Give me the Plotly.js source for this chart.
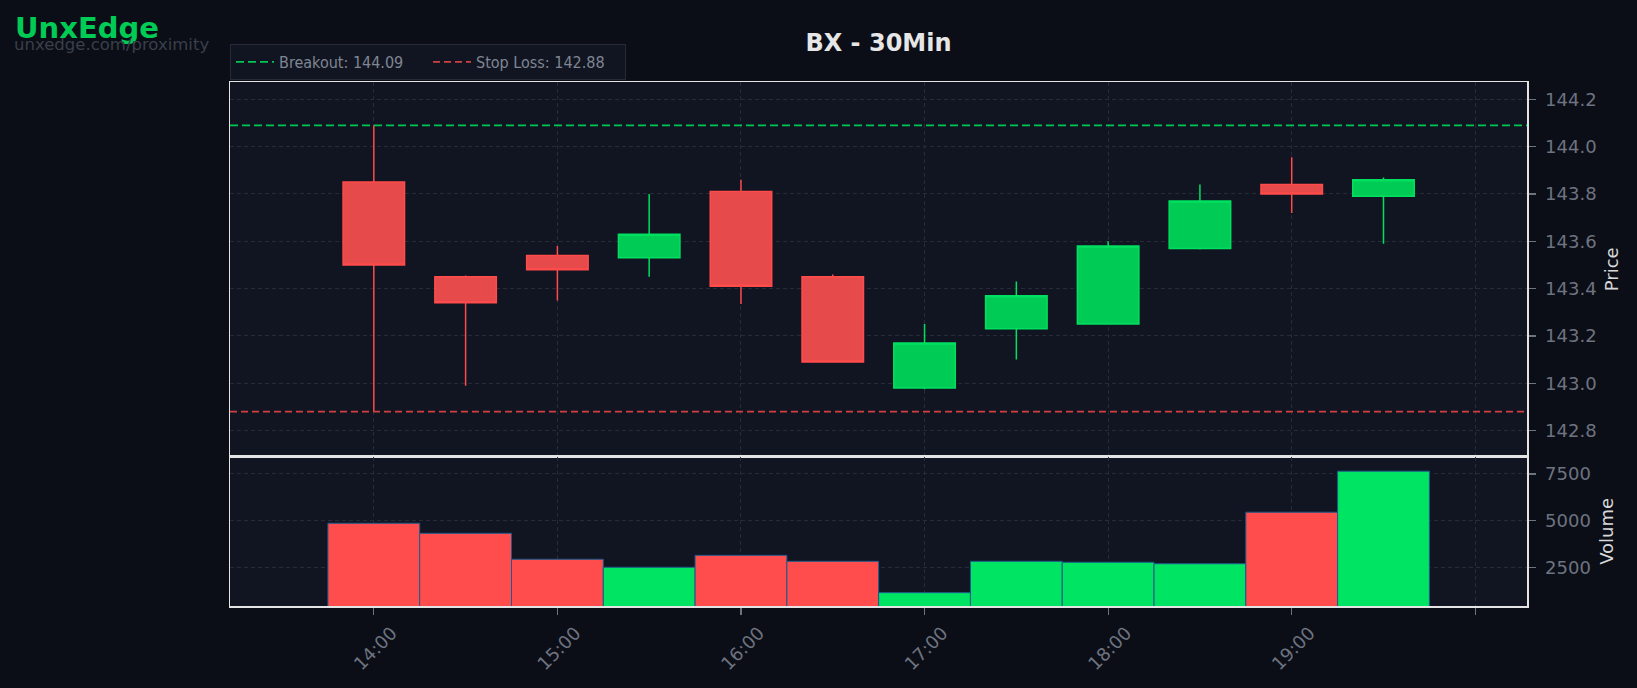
<!DOCTYPE html>
<html>
<head>
<meta charset="utf-8">
<script src="https://cdn.plot.ly/plotly-3.0.1.min.js"></script>
<style>
  html, body { margin: 0; padding: 0; background: #0b0e17; }
  #chart { width: 1637px; height: 688px; }
</style>
</head>
<body>
<div id="chart"></div>
<script>
// ---- Data ----
const sessionDate = '2024-01-02';
const times  = ['14:00','14:30','15:00','15:30','16:00','16:30','17:00','17:30','18:00','18:30','19:00','19:30'];
const opens  = [143.85, 143.45, 143.54, 143.53, 143.81, 143.45, 142.98, 143.23, 143.25, 143.57, 143.84, 143.79];
const highs  = [144.09, 143.455,143.58, 143.80, 143.86, 143.46, 143.25, 143.43, 143.60, 143.84, 143.955,143.87];
const lows   = [142.88, 142.99, 143.35, 143.45, 143.335,143.09, 142.975,143.10, 143.25, 143.565,143.72, 143.59];
const closes = [143.50, 143.34, 143.48, 143.63, 143.41, 143.09, 143.17, 143.37, 143.58, 143.77, 143.80, 143.86];
const volumes = [4860, 4320, 2930, 2500, 3140, 2820, 1140, 2820, 2770, 2690, 5450, 7650];
const breakout = 144.09;
const stopLoss = 142.88;
const tickTimes  = ['14:00','15:00','16:00','17:00','18:00','19:00','20:00'];
const tickLabels = ['14:00','15:00','16:00','17:00','18:00','19:00',''];
const chartTitle = 'BX - 30Min';
const brand = 'UnxEdge';
const brandUrl = 'unxedge.com/proximity';

// ---- Build ----
const xs = times.map(t => sessionDate + ' ' + t);
const xRange = [sessionDate + ' 13:13:00', sessionDate + ' 20:16:54'];

const UP_FILL = '#00cc55', UP_LINE = '#00e060';
const DN_FILL = '#e64a4a', DN_LINE = '#ff4b4b';
const VOL_UP = '#00e463', VOL_DN = '#ff4d4d';
const volColors = closes.map((c, i) => c >= opens[i] ? VOL_UP : VOL_DN);

const GRID = '#262b37';
const TICKC = '#6e7380';
const FRAME = '#e4e4e4';
const FONT = 'DejaVu Sans, sans-serif';

const traces = [
  {
    type: 'candlestick', x: xs, open: opens, high: highs, low: lows, close: closes,
    xaxis: 'x', yaxis: 'y', showlegend: false, hoverinfo: 'skip',
    increasing: { line: { color: UP_LINE, width: 1.5 }, fillcolor: UP_FILL },
    decreasing: { line: { color: DN_LINE, width: 1.5 }, fillcolor: DN_FILL },
    whiskerwidth: 0
  },
  {
    type: 'scatter', mode: 'lines', x: xRange, y: [breakout, breakout],
    xaxis: 'x', yaxis: 'y', name: 'Breakout: ' + breakout.toFixed(2),
    line: { color: '#00c853', width: 1.8, dash: '8px,4px' }, hoverinfo: 'skip'
  },
  {
    type: 'scatter', mode: 'lines', x: xRange, y: [stopLoss, stopLoss],
    xaxis: 'x', yaxis: 'y', name: 'Stop Loss: ' + stopLoss.toFixed(2),
    line: { color: '#d04040', width: 1.8, dash: '7px,4px' }, hoverinfo: 'skip'
  },
  {
    type: 'bar', x: xs, y: volumes, xaxis: 'x2', yaxis: 'y2', showlegend: false,
    width: 30 * 60 * 1000,
    marker: { color: volColors, line: { color: '#1f5a8c', width: 1 } },
    hoverinfo: 'skip'
  }
];

const axisCommon = {
  showline: true, linecolor: FRAME, linewidth: 1.5, mirror: true,
  gridcolor: GRID, griddash: '4px,3px', gridwidth: 1, zeroline: false,
  tickfont: { family: FONT, size: 18, color: TICKC },
  tickcolor: TICKC, ticklen: 7, tickwidth: 1.2
};

const layout = {
  width: 1637, height: 688,
  paper_bgcolor: '#0b0e17', plot_bgcolor: '#111521',
  margin: { l: 230, r: 110, t: 82, b: 82 },
  font: { family: FONT, color: TICKC },
  title: {
    text: '<b>' + chartTitle + '</b>',
    font: { family: FONT, size: 24, color: '#e6e6e6' },
    x: 0.5, xref: 'paper', xanchor: 'center',
    y: 1 - 43 / 688, yref: 'container', yanchor: 'middle'
  },
  showlegend: true,
  legend: {
    orientation: 'h', x: 0, xanchor: 'left', y: 1.004, yanchor: 'bottom',
    bgcolor: '#111521', bordercolor: '#262b37', borderwidth: 1,
    itemwidth: 38, entrywidth: 144, entrywidthmode: 'pixels',
    font: { family: 'DejaVu Sans Condensed, DejaVu Sans, sans-serif', size: 16, color: '#7f8593' }
  },
  boxgap: 0.33,
  boxgroupgap: 0,
  bargap: 0,
  xaxis: Object.assign({}, axisCommon, {
    type: 'date', anchor: 'y', matches: 'x2', range: xRange,
    showticklabels: false, ticks: '',
    tickvals: tickTimes.map(t => sessionDate + ' ' + t),
    rangeslider: { visible: false }
  }),
  xaxis2: Object.assign({}, axisCommon, {
    type: 'date', anchor: 'y2', range: xRange,
    tickvals: tickTimes.map(t => sessionDate + ' ' + t),
    ticktext: tickLabels, tickangle: -45, ticks: 'outside',
    ticklabelshift: 18, ticklabelstandoff: 1
  }),
  yaxis: Object.assign({}, axisCommon, {
    domain: [0.285, 1], side: 'right', anchor: 'x',
    range: [142.69, 144.273], tick0: 142.8, dtick: 0.2, tickformat: '.1f',
    ticks: 'outside', ticklabelstandoff: 6,
    title: { text: 'Price', font: { family: FONT, size: 18, color: '#d8d8d8' }, standoff: 10 }
  }),
  yaxis2: Object.assign({}, axisCommon, {
    domain: [0, 0.285], side: 'right', anchor: 'x2',
    range: [426, 8427], tickvals: [2500, 5000, 7500],
    ticks: 'outside', ticklabelstandoff: 6,
    title: { text: 'Volume', font: { family: FONT, size: 18, color: '#d8d8d8' }, standoff: 10 }
  }),
  annotations: [
    {
      text: '<b>' + brand + '</b>', showarrow: false,
      xref: 'paper', yref: 'paper', x: (13 - 230) / 1297, y: (606 - 28) / 524,
      xanchor: 'left', yanchor: 'middle',
      font: { family: FONT, size: 29, color: '#00cc55' }
    },
    {
      text: brandUrl, showarrow: false,
      xref: 'paper', yref: 'paper', x: (12 - 230) / 1297, y: (606 - 45) / 524,
      xanchor: 'left', yanchor: 'middle',
      font: { family: FONT, size: 16.5, color: '#3a3f4b' }
    }
  ]
};

Plotly.newPlot('chart', traces, layout, { staticPlot: true, displayModeBar: false });
</script>
</body>
</html>
